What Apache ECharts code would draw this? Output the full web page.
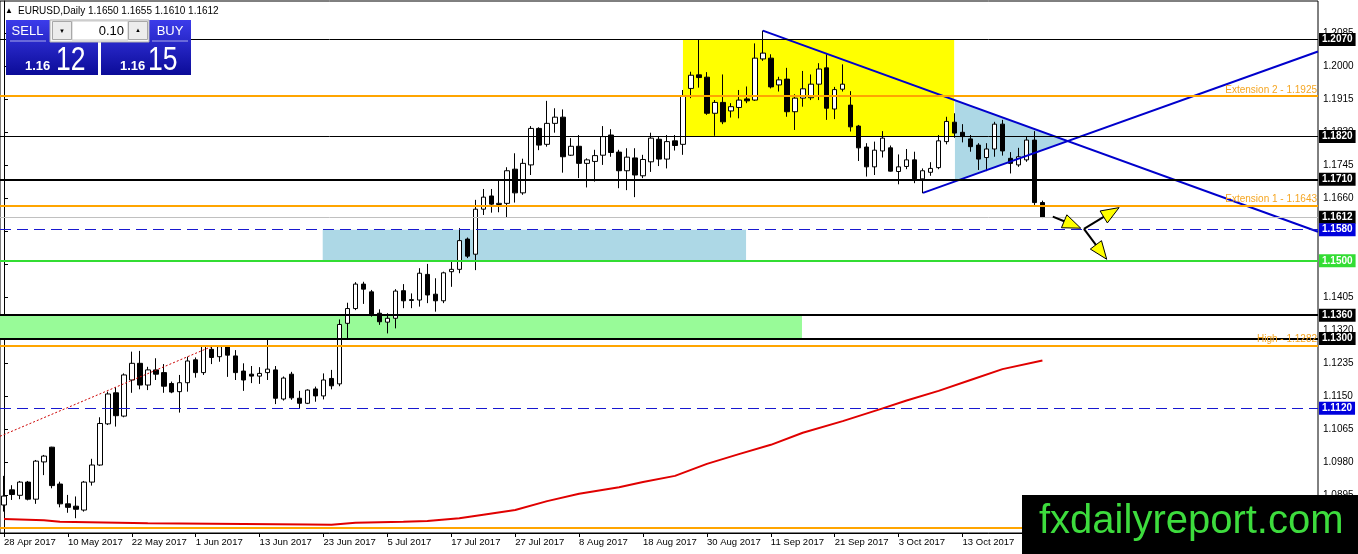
<!DOCTYPE html>
<html><head><meta charset="utf-8">
<script src="https://cdn.jsdelivr.net/npm/echarts@6/dist/echarts.min.js"></script>
<style>html,body{margin:0;padding:0;background:#fff;}#c{width:1358px;height:554px;}</style>
</head><body><div id="c"></div>
<script>
// ---------- DATA ----------
const startDate = '2017-04-28';
const totalSlots = 165;
const opens = [1.0871,1.0910,1.0896,1.0930,1.0886,1.0982,1.1020,1.0925,1.0874,1.0868,
1.0858,1.0930,1.0974,1.1080,1.1160,1.1100,1.1193,1.1236,1.1180,1.1219,
1.1212,1.1184,1.1163,1.1186,1.1245,1.1212,1.1272,1.1253,1.1279,1.1255,
1.1216,1.1208,1.1203,1.1212,1.1219,1.1144,1.1208,1.1146,1.1133,1.1170,
1.1152,1.1197,1.1183,1.1339,1.1377,1.1440,1.1420,1.1365,1.1342,1.1352,
1.1423,1.1400,1.1399,1.1465,1.1414,1.1397,1.1472,1.1478,1.1556,1.1517,
1.1633,1.1667,1.1645,1.1648,1.1736,1.1675,1.1747,1.1841,1.1800,1.1854,
1.1870,1.1772,1.1795,1.1751,1.1756,1.1772,1.1824,1.1780,1.1732,1.1765,
1.1719,1.1755,1.1813,1.1762,1.1809,1.1800,1.1944,1.1979,1.1973,1.1880,
1.1908,1.1886,1.1895,1.1917,1.1914,1.2020,1.2022,1.1953,1.1968,1.1884,
1.1919,1.1920,1.1955,1.1997,1.1891,1.1942,1.1901,1.1847,1.1793,1.1742,
1.1783,1.1791,1.1730,1.1743,1.1760,1.1711,1.1728,1.1740,1.1807,1.1857,
1.1831,1.1814,1.1798,1.1766,1.1788,1.1852,1.1764,1.1747,1.1760,1.1811,
1.1650];
const highs = [1.0946,1.0922,1.0933,1.0933,1.0987,1.1000,1.1021,1.0931,1.0897,1.0893,
1.0933,1.0990,1.1097,1.1163,1.1174,1.1210,1.1266,1.1268,1.1227,1.1249,
1.1234,1.1189,1.1206,1.1253,1.1251,1.1282,1.1280,1.1282,1.1281,1.1270,
1.1236,1.1229,1.1226,1.1298,1.1229,1.1202,1.1214,1.1165,1.1169,1.1176,
1.1210,1.1219,1.1349,1.1392,1.1445,1.1446,1.1425,1.1375,1.1365,1.1427,
1.1440,1.1416,1.1481,1.1492,1.1455,1.1472,1.1498,1.1584,1.1560,1.1657,
1.1685,1.1685,1.1710,1.1741,1.1777,1.1763,1.1847,1.1844,1.1912,1.1893,
1.1890,1.1816,1.1824,1.1764,1.1786,1.1847,1.1839,1.1786,1.1790,1.1790,
1.1773,1.1830,1.1821,1.1824,1.1824,1.1940,1.1987,1.2069,1.1986,1.1914,
1.1980,1.1906,1.1940,1.1949,1.2060,1.2093,1.2032,1.1974,1.1997,1.1929,
1.1989,1.1980,1.2009,1.2032,1.1948,1.2006,1.1937,1.1850,1.1803,1.1807,
1.1834,1.1797,1.1774,1.1788,1.1781,1.1738,1.1754,1.1824,1.1871,1.1880,
1.1852,1.1824,1.1803,1.1803,1.1858,1.1863,1.1780,1.1791,1.1820,1.1834,
1.1655];
const lows = [1.0854,1.0884,1.0886,1.0883,1.0874,1.0948,1.0914,1.0865,1.0851,1.0837,
1.0854,1.0921,1.0972,1.1077,1.1073,1.1097,1.1160,1.1169,1.1167,1.1193,
1.1160,1.1159,1.1109,1.1163,1.1199,1.1206,1.1234,1.1240,1.1201,1.1193,
1.1165,1.1185,1.1183,1.1193,1.1131,1.1140,1.1142,1.1119,1.1131,1.1137,
1.1143,1.1169,1.1177,1.1300,1.1373,1.1389,1.1356,1.1335,1.1313,1.1326,
1.1378,1.1378,1.1382,1.1391,1.1369,1.1391,1.1433,1.1468,1.1507,1.1476,
1.1618,1.1624,1.1625,1.1612,1.1650,1.1670,1.1721,1.1785,1.1794,1.1830,
1.1727,1.1770,1.1713,1.1689,1.1704,1.1747,1.1768,1.1687,1.1682,1.1664,
1.1713,1.1729,1.1744,1.1738,1.1784,1.1773,1.1919,1.1946,1.1876,1.1822,
1.1852,1.1869,1.1867,1.1906,1.1912,1.2015,1.1944,1.1936,1.1871,1.1837,
1.1897,1.1914,1.1914,1.1863,1.1865,1.1936,1.1833,1.1757,1.1717,1.1721,
1.1766,1.1730,1.1697,1.1736,1.1700,1.1674,1.1719,1.1736,1.1800,1.1817,
1.1805,1.1781,1.1734,1.1731,1.1768,1.1771,1.1725,1.1742,1.1755,1.1639,
1.1610];
const closes = [1.0894,1.0898,1.0930,1.0886,1.0984,1.0997,1.0921,1.0874,1.0865,1.0860,
1.0930,1.0974,1.1081,1.1157,1.1101,1.1206,1.1236,1.1180,1.1219,1.1208,
1.1177,1.1162,1.1186,1.1242,1.1212,1.1280,1.1251,1.1279,1.1257,1.1212,
1.1193,1.1203,1.1210,1.1221,1.1146,1.1198,1.1147,1.1133,1.1167,1.1152,
1.1193,1.1178,1.1336,1.1377,1.1440,1.1427,1.1361,1.1343,1.1352,1.1422,
1.1397,1.1398,1.1468,1.1412,1.1397,1.1469,1.1478,1.1552,1.1512,1.1633,
1.1664,1.1646,1.1648,1.1732,1.1675,1.1751,1.1841,1.1798,1.1854,1.1870,
1.1768,1.1795,1.1751,1.1760,1.1771,1.1820,1.1779,1.1732,1.1767,1.1721,
1.1761,1.1816,1.1762,1.1807,1.1797,1.1924,1.1978,1.1972,1.1880,1.1908,
1.1858,1.1897,1.1914,1.1912,1.2022,1.2035,1.1948,1.1966,1.1884,1.1919,
1.1943,1.1955,1.1994,1.1893,1.1941,1.1955,1.1845,1.1791,1.1742,1.1785,
1.1816,1.1731,1.1742,1.1760,1.1711,1.1732,1.1738,1.1809,1.1859,1.1829,
1.1820,1.1794,1.1762,1.1788,1.1852,1.1783,1.1751,1.1768,1.1811,1.1650,
1.1612];
// 200-day moving average (read at sample bars)
const maIdx = [0,5,7,18,38,41,44,50,53,57,60,64,68,72,77,80,84,88,92,96,100,105,110,113,117,121,125,130];
const maVal = [1.0835,1.0832,1.0828,1.0824,1.0821,1.0820,1.0825,1.0828,1.0830,1.0837,1.0846,1.0858,1.0881,1.0900,1.0917,1.0930,1.0946,1.0977,1.1002,1.1026,1.1057,1.1087,1.1120,1.1140,1.1165,1.1193,1.1221,1.1243];
// drawings
const dotIdx = [-0.5, 26.2];
const dotVal = [1.1048, 1.1281];
const trendDown = [[95.0, 1.2093], [164.5, 1.1575]];
const trendUp = [[115.05, 1.1675], [164.5, 1.2039]];
const triX = [119.05, 119.05, 133.2];
const triY = [1.1914, 1.1704, 1.1808];
const rects = [[85.0, 1.2070, 118.95, 1.1820], [39.9, 1.1580, 92.9, 1.1500], [-0.5, 1.1360, 99.9, 1.1300]];
const arrows = [[131.3, 1.1614, 134.8, 1.1584], [135.2, 1.1582, 139.6, 1.1637], [135.2, 1.1582, 138.05, 1.1504]];
// levels
const levelsThin = [1.2070, 1.1820];
const levelsBold = [1.1710, 1.1360, 1.1300];
const levelsOrange = [1.1925, 1.1643, 1.1282, 1.0812];
const orangeTexts = ['Extension 2 - 1.1925', 'Extension 1 - 1.1643', 'High - 1.1282', ''];
const levelsBlueDash = [1.1580, 1.1120];
const levelsGreen = [1.1500];
const levelsBid = [1.1612];
const yTicks = [1.0895,1.0980,1.1065,1.1150,1.1235,1.1320,1.1405,1.1490,1.1575,1.1660,1.1745,1.1830,1.1915,1.2000,1.2085];
const headerSymbol = 'EURUSD,Daily';
const headerOHLC = '1.1650 1.1655 1.1610 1.1612';
const sellBig = ['1.16', '12'];
const buyBig = ['1.16', '15'];
const lotText = '0.10';
const watermark = 'fxdailyreport.com';

// ---------- STYLE ----------
const FONT = "'Liberation Sans', Arial, sans-serif";
const Y_MIN = 1.07989, Y_MAX = 1.21692;
const rectColors = ['#ffff00', '#add8e6', '#98fb98'];

const MONTHS = ['Jan','Feb','Mar','Apr','May','Jun','Jul','Aug','Sep','Oct','Nov','Dec'];
function tradingDays(start, n) {
  const out = []; const d = new Date(start + 'T00:00:00Z');
  while (out.length < n) {
    const wd = d.getUTCDay();
    if (wd !== 0 && wd !== 6) out.push(d.getUTCDate() + ' ' + MONTHS[d.getUTCMonth()] + ' ' + d.getUTCFullYear());
    d.setUTCDate(d.getUTCDate() + 1);
  }
  return out;
}
const categories = tradingDays(startDate, totalSlots);
const candles = opens.map((o, i) => [o, closes[i], lows[i], highs[i]]);

function boxLabel(v, bg) {
  return {show: true, position: 'end', distance: 1, formatter: v.toFixed(4), color: '#fff',
    backgroundColor: bg, padding: [2, 3, 1, 3], fontSize: 10, fontFamily: FONT, fontWeight: 'bold'};
}
const mlData = [];
levelsOrange.forEach((v, i) => mlData.push({yAxis: v, lineStyle: {color: '#ffa500', width: 2, type: 'solid'},
  label: {show: !!orangeTexts[i], position: 'insideEndTop', distance: 1, formatter: orangeTexts[i] || ' ', color: '#f5a623', fontSize: 10, fontFamily: FONT}}));
levelsBid.forEach(v => mlData.push({yAxis: v, lineStyle: {color: '#c0c0c0', width: 1, type: 'solid'}, label: boxLabel(v, '#000')}));
levelsThin.forEach(v => mlData.push({yAxis: v, lineStyle: {color: '#000', width: 1, type: 'solid'}, label: boxLabel(v, '#000')}));
levelsBold.forEach(v => mlData.push({yAxis: v, lineStyle: {color: '#000', width: 2, type: 'solid'}, label: boxLabel(v, '#000')}));
levelsBlueDash.forEach(v => mlData.push({yAxis: v, lineStyle: {color: '#1818d0', width: 1, type: [11, 6]}, label: boxLabel(v, '#0000dd')}));
levelsGreen.forEach(v => mlData.push({yAxis: v, lineStyle: {color: '#33dd33', width: 2, type: 'solid'}, label: boxLabel(v, '#33dd33')}));

const blueGrad = {type: 'linear', x: 0, y: 0, x2: 0, y2: 1, colorStops: [{offset: 0, color: '#3c3cea'}, {offset: 1, color: '#0b0b98'}]};
function txt(x, y, text, size, color, align, weight, sx) {
  return {type: 'text', z: 101, x: x, y: y, scaleX: sx || 1, style: {x: 0, y: 0, text: text, fill: color, font: (weight || 'normal') + ' ' + size + 'px ' + FONT,
    textAlign: align || 'left', align: align || 'left', textVerticalAlign: 'middle', verticalAlign: 'middle'}};
}
const graphic = [
  // one-click trading panel
  {type: 'rect', z: 100, shape: {x: 6, y: 20, width: 92, height: 55}, style: {fill: blueGrad}},
  {type: 'rect', z: 100, shape: {x: 101, y: 20, width: 90, height: 55}, style: {fill: blueGrad}},
  {type: 'rect', z: 100, shape: {x: 50, y: 20, width: 99, height: 22}, style: {fill: '#f4f4f4', stroke: '#b0b0b0', lineWidth: 1}},
  {type: 'rect', z: 100, shape: {x: 72, y: 21, width: 56, height: 19}, style: {fill: '#ffffff', stroke: '#c8c8c8', lineWidth: 1}},
  {type: 'rect', z: 100, shape: {x: 52.5, y: 21.5, width: 19, height: 18}, style: {fill: '#ececec', stroke: '#a8a8a8', lineWidth: 1}},
  {type: 'rect', z: 100, shape: {x: 128.5, y: 21.5, width: 19, height: 18}, style: {fill: '#ececec', stroke: '#a8a8a8', lineWidth: 1}},
  {type: 'line', z: 101, shape: {x1: 10, y1: 41, x2: 46, y2: 41}, style: {stroke: 'rgba(255,255,255,0.6)', lineWidth: 1}},
  {type: 'line', z: 101, shape: {x1: 152, y1: 41, x2: 188, y2: 41}, style: {stroke: 'rgba(255,255,255,0.6)', lineWidth: 1}},
  txt(27.5, 31, 'SELL', 13, '#fff', 'center'),
  txt(170, 31, 'BUY', 13, '#fff', 'center'),
  txt(62, 31, '\u25BC', 6, '#000', 'center'),
  txt(138, 30, '\u25B2', 6, '#000', 'center'),
  txt(124, 31, lotText, 13, '#000', 'right'),
  txt(25, 66, sellBig[0], 13, '#fff', 'left', 'bold'),
  txt(56, 61, sellBig[1], 34, '#fff', 'left', 'normal', 0.78),
  txt(120, 66, buyBig[0], 13, '#fff', 'left', 'bold'),
  txt(148, 61, buyBig[1], 34, '#fff', 'left', 'normal', 0.78),
  // header
  txt(5, 11, '\u25B2', 8, '#000', 'left'),
  txt(18, 11, headerSymbol, 10, '#000', 'left'),
  txt(88, 11, headerOHLC, 10, '#000', 'left'),
  // watermark
  {type: 'rect', z: 100, shape: {x: 1022, y: 495, width: 336, height: 59}, style: {fill: '#000'}},
  txt(1039, 522, watermark, 40, '#3ddc3d', 'left')
];

const option = {
  animation: false,
  backgroundColor: '#fff',
  grid: {left: 0, right: 40, top: 1, bottom: 21, show: true, borderColor: '#000', borderWidth: 1},
  xAxis: [
    {type: 'category', data: categories, boundaryGap: true,
      axisLine: {show: true, lineStyle: {color: '#000', width: 1}},
      axisTick: {show: true, alignWithLabel: true, interval: 7, length: 4, lineStyle: {color: '#000'}},
      axisLabel: {interval: 7, align: 'left', color: '#000', fontSize: 9.5, fontFamily: FONT, margin: 4},
      splitLine: {show: false}},
    {type: 'value', min: -0.5, max: 164.5, show: false}
  ],
  yAxis: {type: 'value', position: 'right', min: Y_MIN, max: Y_MAX,
    axisLine: {show: true, lineStyle: {color: '#000', width: 1}},
    axisTick: {show: true, length: 4, customValues: yTicks, lineStyle: {color: '#000'}},
    axisLabel: {show: true, customValues: yTicks, formatter: v => v.toFixed(4), color: '#000', fontSize: 10, fontFamily: FONT, margin: 5},
    splitLine: {show: false}},
  series: [
    {type: 'custom', xAxisIndex: 1, yAxisIndex: 0, z: 1, silent: true, clip: true, data: rects,
      renderItem: function (params, api) {
        const p1 = api.coord([api.value(0), api.value(1)]);
        const p2 = api.coord([api.value(2), api.value(3)]);
        return {type: 'rect', shape: {x: Math.min(p1[0], p2[0]), y: Math.min(p1[1], p2[1]),
          width: Math.abs(p2[0] - p1[0]), height: Math.abs(p2[1] - p1[1])}, style: {fill: rectColors[params.dataIndex]}};
      }},
    {type: 'custom', xAxisIndex: 1, yAxisIndex: 0, z: 1, silent: true, clip: true, data: [[triX[0], triY[0]]],
      renderItem: function (params, api) {
        const pts = triX.map((x, i) => api.coord([x, triY[i]]));
        return {type: 'polygon', shape: {points: pts}, style: {fill: '#add8e6'}};
      }},
    {type: 'candlestick', name: 'EURUSD', xAxisIndex: 0, yAxisIndex: 0, z: 2, silent: true, data: candles, barWidth: 5,
      itemStyle: {color: '#ffffff', color0: '#000000', borderColor: '#000000', borderColor0: '#000000', borderWidth: 1},
      markLine: {silent: true, precision: 4, symbol: ['none', 'none'], animation: false, data: mlData}},
    {type: 'line', xAxisIndex: 1, yAxisIndex: 0, z: 3, silent: true, symbol: 'none',
      data: maIdx.map((x, i) => [x, maVal[i]]), lineStyle: {color: '#e00000', width: 2}},
    {type: 'line', xAxisIndex: 1, yAxisIndex: 0, z: 3, silent: true, symbol: 'none',
      data: dotIdx.map((x, i) => [x, dotVal[i]]), lineStyle: {color: '#cc0000', width: 1, type: [2, 2]}},
    {type: 'line', xAxisIndex: 1, yAxisIndex: 0, z: 4, silent: true, symbol: 'none',
      data: trendDown, lineStyle: {color: '#0000cc', width: 2}},
    {type: 'line', xAxisIndex: 1, yAxisIndex: 0, z: 4, silent: true, symbol: 'none',
      data: trendUp, lineStyle: {color: '#0000cc', width: 2}},
    {type: 'custom', xAxisIndex: 1, yAxisIndex: 0, z: 5, silent: true, clip: true, data: arrows,
      renderItem: function (params, api) {
        const a = api.coord([api.value(0), api.value(1)]);
        const b = api.coord([api.value(2), api.value(3)]);
        const dx = b[0] - a[0], dy = b[1] - a[1], len = Math.hypot(dx, dy) || 1;
        const ux = dx / len, uy = dy / len, hl = 18, hw = 7;
        const bx = b[0] - ux * hl, by = b[1] - uy * hl;
        return {type: 'group', children: [
          {type: 'line', shape: {x1: a[0], y1: a[1], x2: bx, y2: by}, style: {stroke: '#000', lineWidth: 2}},
          {type: 'polygon', shape: {points: [[b[0], b[1]], [bx - uy * hw, by + ux * hw], [bx + uy * hw, by - ux * hw]]},
            style: {fill: '#ffff00', stroke: '#000', lineWidth: 1}}
        ]};
      }}
  ],
  graphic: graphic
};
const chart = echarts.init(document.getElementById('c'), null, {renderer: 'canvas', width: 1358, height: 554});
chart.setOption(option);
</script></body></html>
